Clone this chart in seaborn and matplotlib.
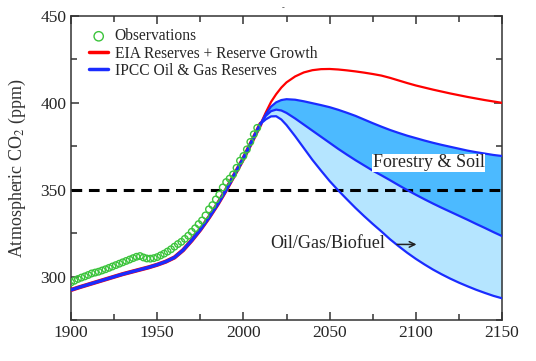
import numpy as np
import pandas as pd
import seaborn as sns
import matplotlib.pyplot as plt
from matplotlib.ticker import MultipleLocator

# observed CO2 (ppm)
obs_years = list(range(1900, 2009, 2))
obs_ppm = [296.6, 297.6, 298.6, 299.4, 300.1, 300.9, 301.8, 302.3, 302.8, 303.5,
           304.2, 305.0, 305.8, 306.6, 307.4, 308.2, 309.0, 309.8, 310.6, 311.4,
           311.8, 311.0, 310.4, 310.3, 310.6, 311.2, 312.2, 313.2, 314.4, 315.7,
           317.2, 318.7, 320.0, 321.7, 323.5, 325.8, 327.8, 330.2, 332.3, 335.2,
           338.7, 341.1, 344.4, 347.2, 351.3, 354.4, 356.4, 358.8, 362.6, 366.7,
           369.4, 373.2, 377.5, 381.9, 385.6]

# modelled history (shared by both scenarios)
hist_years = [1900, 1905, 1910, 1915, 1920, 1925, 1930, 1935, 1940, 1945, 1950,
              1955, 1960, 1965, 1970, 1975, 1980, 1985, 1990, 1995, 2000, 2005]
hist_ppm = [292.3, 293.9, 295.4, 296.9, 298.4, 299.9, 301.4, 302.7, 304.0, 305.3,
            306.8, 308.6, 311.0, 315.2, 320.8, 327.0, 334.0, 341.6, 350.0, 359.0,
            368.0, 378.0]

# EIA reserves + reserve growth
eia_years = [2010, 2013, 2016, 2019, 2022, 2025, 2030, 2035, 2040, 2045, 2050,
             2055, 2060, 2065, 2070, 2075, 2080, 2085, 2090, 2095, 2100, 2105,
             2110, 2115, 2120, 2125, 2130, 2135, 2140, 2145, 2150]
eia_ppm = [388.0, 394.5, 400.5, 405.0, 408.8, 411.8, 415.2, 417.5, 418.8, 419.4,
           419.5, 419.2, 418.7, 418.1, 417.4, 416.6, 415.7, 414.4, 412.9, 411.4,
           410.0, 408.8, 407.6, 406.5, 405.4, 404.4, 403.4, 402.5, 401.6, 400.8,
           400.0]

# IPCC oil & gas reserves: upper (forestry & soil), middle, lower (oil/gas/biofuel)
ipcc_years = [2010, 2013, 2016, 2019, 2022, 2025, 2030, 2035, 2040, 2045, 2050,
              2055, 2060, 2065, 2070, 2075, 2080, 2085, 2090, 2095, 2100, 2105,
              2110, 2115, 2120, 2125, 2130, 2135, 2140, 2145, 2150]
ipcc_upper = [388.0, 393.5, 397.8, 400.3, 401.6, 402.1, 401.8, 400.9, 399.8, 398.7,
              397.5, 396.0, 394.3, 392.5, 390.4, 388.3, 386.3, 384.4, 382.7, 381.1,
              379.7, 378.3, 377.0, 375.8, 374.7, 373.6, 372.5, 371.6, 370.8, 370.0,
              369.4]
ipcc_mid = [388.0, 392.5, 395.2, 396.1, 395.6, 394.2, 391.0, 387.5, 384.0, 380.5,
            377.0, 373.5, 370.2, 367.0, 364.0, 361.0, 358.3, 355.5, 352.6, 349.8,
            347.1, 344.5, 342.0, 339.6, 337.3, 335.0, 332.7, 330.3, 328.0, 325.6,
            323.3]
ipcc_low = [388.0, 390.5, 392.2, 392.3, 390.4, 387.2, 380.8, 374.0, 367.2, 361.0,
            355.0, 349.6, 344.5, 339.5, 334.8, 330.3, 326.0, 321.5, 317.5, 313.7,
            310.2, 307.0, 304.0, 301.3, 298.8, 296.5, 294.4, 292.4, 290.6, 288.9,
            287.5]

sns.set_style("ticks")
plt.rcParams["font.family"] = ["Liberation Serif", "DejaVu Serif"]
plt.rcParams["mathtext.fontset"] = "stix"

fig = plt.figure(figsize=(5.36, 3.61), dpi=100)
ax = fig.add_axes([0.1325, 0.1136, 0.8041, 0.8421])

red = "#ff0000"
blue = "#1a2cff"

ax.fill_between(ipcc_years, ipcc_mid, ipcc_upper, color="#4cbaff", lw=0, zorder=1)
ax.fill_between(ipcc_years, ipcc_low, ipcc_mid, color="#b5e5ff", lw=0, zorder=1)

ax.axhline(350, color="black", lw=2.2, ls=(0, (3.5, 2.2)), zorder=2)

hist = pd.DataFrame({"year": hist_years + [2010], "ppm": hist_ppm + [388.0]})
sns.lineplot(data=hist, x="year", y="ppm", color=red, lw=3.0, ax=ax, zorder=3)
sns.lineplot(data=hist, x="year", y="ppm", color=blue, lw=2.4, ax=ax, zorder=4)

eia = pd.DataFrame({"year": eia_years, "ppm": eia_ppm})
sns.lineplot(data=eia, x="year", y="ppm", color=red, lw=1.6, ax=ax, zorder=3,
             label="EIA Reserves + Reserve Growth")
for i, ser in enumerate([ipcc_upper, ipcc_mid, ipcc_low]):
    df = pd.DataFrame({"year": ipcc_years, "ppm": ser})
    sns.lineplot(data=df, x="year", y="ppm", color=blue, lw=1.6, ax=ax, zorder=4,
                 label="IPCC Oil & Gas Reserves" if i == 0 else None)

obs = pd.DataFrame({"year": obs_years, "ppm": obs_ppm})
sns.scatterplot(data=obs, x="year", y="ppm", ax=ax, marker="o", s=22,
                facecolors="none", edgecolor="#3cc43c", linewidth=1.0, zorder=5,
                label="Observations")

ax.set_xlim(1900, 2150)
ax.set_ylim(275, 450)
ax.xaxis.set_major_locator(MultipleLocator(50))
ax.xaxis.set_minor_locator(MultipleLocator(25))
ax.yaxis.set_major_locator(MultipleLocator(50))
ax.yaxis.set_minor_locator(MultipleLocator(25))
ax.tick_params(which="both", direction="in", top=True, right=True, labelsize=12.5,
               color="#333333", width=1.1)
ax.tick_params(which="major", length=5.5)
ax.tick_params(which="minor", length=4)
for s in ax.spines.values():
    s.set_color("#333333")
    s.set_linewidth(1.1)

ax.set_xlabel("")
ax.set_ylabel("Atmospheric CO$_2$ (ppm)", fontsize=13, color="#333333", labelpad=9)

ax.text(2075, 365.5, "Forestry & Soil", fontsize=13, va="center", ha="left",
        bbox=dict(facecolor="white", edgecolor="none", pad=0.5), zorder=6)
ax.text(2015.5, 319, "Oil/Gas/Biofuel", fontsize=13, va="center", ha="left", zorder=6)
ax.annotate("", xy=(2102, 318.5), xytext=(2087.5, 318.5),
            arrowprops=dict(arrowstyle="->", lw=1.1, color="#222222"), zorder=6)

handles, labels = ax.get_legend_handles_labels()
order = [labels.index("Observations"), labels.index("EIA Reserves + Reserve Growth"),
         labels.index("IPCC Oil & Gas Reserves")]
leg = ax.legend([handles[i] for i in order], [labels[i] for i in order],
                loc="upper left", frameon=False, fontsize=11.2, handlelength=1.25,
                handletextpad=0.4, labelspacing=0.08, borderaxespad=0.2,
                bbox_to_anchor=(0.02, 0.99))
for h in leg.legend_handles[1:]:
    h.set_linewidth(2.5)
leg.legend_handles[0].set_sizes([45])

fig.text(283 / 536, 1 - 8 / 361, "-", fontsize=6, ha="center", va="center")

fig.savefig("out.png", dpi=100)
